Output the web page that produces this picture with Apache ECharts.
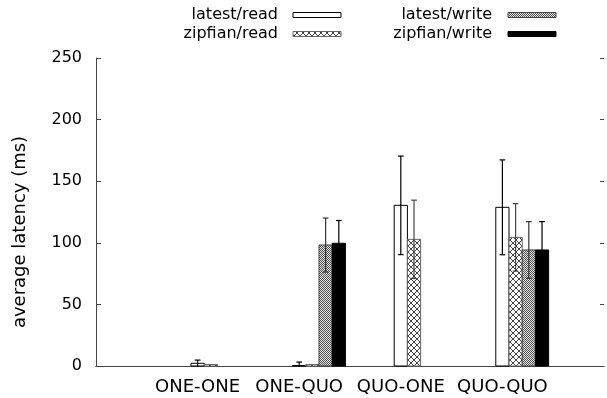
<!DOCTYPE html>
<html>
<head>
<meta charset="utf-8">
<script src="https://cdn.jsdelivr.net/npm/echarts@6/dist/echarts.min.js"></script>
<style>html,body{margin:0;padding:0;background:#fff}#c{width:607px;height:398px}</style>
</head>
<body>
<div id="c"></div>
<script>
// ---- data ----
const categories = ['ONE-ONE', 'ONE-QUO', 'QUO-ONE', 'QUO-QUO'];
const seriesNames = ['latest/read', 'zipfian/read', 'latest/write', 'zipfian/write'];
const latestRead = [2.2, 0.4, 130.4, 128.8];
const latestReadErr = [2.6, 2.8, 40.0, 38.5];
const zipfianRead = [1.2, 1.2, 102.8, 104.4];
const zipfianReadErr = [0, 0, 31.8, 27.4];
const latestWrite = [null, 98.2, null, 94.2];
const latestWriteErr = [null, 21.9, null, 23.0];
const zipfianWrite = [null, 99.6, null, 94.2];
const zipfianWriteErr = [null, 18.5, null, 23.0];
const yTicks = [0, 50, 100, 150, 200, 250];

// ---- patterns ----
function diamondPattern(size, color) {
  const c = document.createElement('canvas');
  c.width = size; c.height = size;
  const g = c.getContext('2d');
  g.fillStyle = '#fff'; g.fillRect(0, 0, size, size);
  g.strokeStyle = color; g.lineWidth = 1;
  g.beginPath();
  g.moveTo(0, 0); g.lineTo(size, size);
  g.moveTo(size, 0); g.lineTo(0, size);
  g.stroke();
  return { image: c, repeat: 'repeat' };
}
function checkerPattern(dark, light) {
  const c = document.createElement('canvas');
  c.width = 2; c.height = 2;
  const g = c.getContext('2d');
  g.fillStyle = light; g.fillRect(0, 0, 2, 2);
  g.fillStyle = dark; g.fillRect(0, 0, 1, 1); g.fillRect(1, 1, 1, 1);
  return { image: c, repeat: 'repeat' };
}
const fills = ['#ffffff', diamondPattern(6, '#444'), checkerPattern('#555', '#e0e0e0'), '#000000'];
const strokes = ['#000', '#666', '#444', '#000'];
const errColors = ['#000', '#444', '#333', '#000'];

const values = [latestRead, zipfianRead, latestWrite, zipfianWrite];
const errs = [latestReadErr, zipfianReadErr, latestWriteErr, zipfianWriteErr];
const axisCats = [''].concat(categories, ['']);

function makeSeries(k) {
  const data = [];
  values[k].forEach((v, i) => { if (v != null) data.push([i + 1, v, errs[k][i]]); });
  return {
    type: 'custom',
    name: seriesNames[k],
    data: data,
    z: 2 + k,
    renderItem: function (params, api) {
      const cat = api.value(0), val = api.value(1), err = api.value(2);
      const band = api.size([1, 0])[0];
      const w = band * 0.13;
      const base = api.coord([cat, 0]);
      const top = api.coord([cat, val]);
      const cx = base[0] + k * w;
      const children = [{
        type: 'rect',
        shape: { x: cx - w / 2, y: top[1], width: w, height: base[1] - top[1] },
        style: { fill: fills[k], stroke: strokes[k], lineWidth: 1 }
      }];
      if (err > 0) {
        const hi = api.coord([cat, val + err])[1];
        const loV = val - err;
        const lo = api.coord([cat, Math.max(0, loV)])[1];
        const cap = band * 0.028;
        const st = { stroke: errColors[k], lineWidth: 1.2, fill: null };
        children.push({ type: 'line', shape: { x1: cx, y1: hi, x2: cx, y2: lo }, style: st });
        children.push({ type: 'line', shape: { x1: cx - cap, y1: hi, x2: cx + cap, y2: hi }, style: st });
        if (loV > 0) children.push({ type: 'line', shape: { x1: cx - cap, y1: lo, x2: cx + cap, y2: lo }, style: st });
      }
      return { type: 'group', children: children };
    }
  };
}

const font = 'DejaVu Sans';
function legendItem(name, k, textRight, rectX, yc) {
  return {
    type: 'group',
    children: [
      { type: 'text', style: { text: name, x: textRight, y: yc, textAlign: 'right', textVerticalAlign: 'middle', font: '16px "DejaVu Sans"', fill: '#000' } },
      { type: 'rect', shape: { x: rectX, y: yc - 2.5, width: 48, height: 5 }, style: { fill: fills[k], stroke: strokes[k], lineWidth: 1 } }
    ]
  };
}

const chart = echarts.init(document.getElementById('c'), null, { renderer: 'canvas' });
chart.setOption({
  animation: false,
  backgroundColor: '#fff',
  grid: { left: 96, right: 0, top: 58, bottom: 32, containLabel: false },
  xAxis: [{
    type: 'category', data: axisCats, boundaryGap: false,
    axisLine: { lineStyle: { color: '#444', width: 1 } },
    axisTick: { show: false },
    axisLabel: { fontFamily: font, fontSize: 18, color: '#000', margin: 12, interval: 0 },
    splitLine: { show: false }
  }, {
    type: 'category', data: axisCats, boundaryGap: false, position: 'top',
    axisLine: { lineStyle: { color: '#444', width: 1 } },
    axisTick: { show: false }, axisLabel: { show: false }
  }],
  yAxis: [{
    type: 'value', min: yTicks[0], max: yTicks[yTicks.length - 1], interval: 50,
    name: 'average latency (ms)', nameLocation: 'middle', nameGap: 67,
    nameTextStyle: { fontFamily: font, fontSize: 18, color: '#000', padding: [0, 40, 0, 0] },
    axisLine: { show: true, lineStyle: { color: '#444', width: 1 } },
    axisTick: { show: true, inside: true, length: 5, lineStyle: { color: '#444' } },
    axisLabel: { fontFamily: font, fontSize: 16, color: '#000', margin: 14 },
    splitLine: { show: false }
  }, {
    type: 'value', min: yTicks[0], max: yTicks[yTicks.length - 1], interval: 50, position: 'right',
    axisLine: { show: false },
    axisTick: { show: true, inside: true, length: 4, lineStyle: { color: '#444' } },
    axisLabel: { show: false }, splitLine: { show: false }
  }],
  series: [0, 1, 2, 3].map(makeSeries),
  graphic: [
    legendItem(seriesNames[0], 0, 278, 293, 15),
    legendItem(seriesNames[1], 1, 278, 293, 34),
    legendItem(seriesNames[2], 2, 492, 508, 15),
    legendItem(seriesNames[3], 3, 492, 508, 34)
  ]
});
</script>
</body>
</html>
